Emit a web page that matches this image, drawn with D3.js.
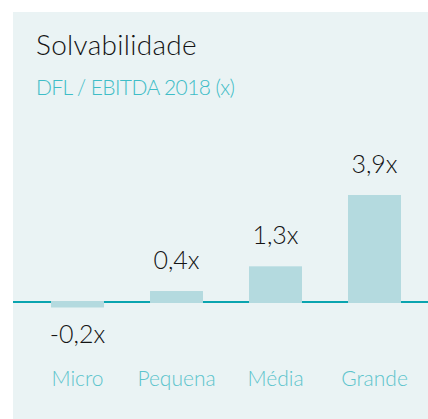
<!DOCTYPE html>
<html>
<head>
<meta charset="utf-8">
<script src="https://cdn.jsdelivr.net/npm/d3@7"></script>
<style>
  body { margin: 0; background: #fff; }
  text { font-family: Lato, "Open Sans", sans-serif; }
</style>
</head>
<body>
<div id="chart"></div>
<script>
const categories = ["Micro", "Pequena", "Média", "Grande"];
const values = [-0.2, 0.4, 1.3, 3.9];
const valueLabels = ["-0,2x", "0,4x", "1,3x", "3,9x"];
const title = "Solvabilidade";
const subtitle = "DFL / EBITDA 2018 (x)";

const width = 428;
const height = 419;

const svg = d3.select("#chart")
    .append("svg")
    .attr("width", width)
    .attr("height", height);

// painel de fundo
svg.append("rect")
    .attr("x", 13)
    .attr("y", 12)
    .attr("width", width - 13)
    .attr("height", height - 12)
    .attr("fill", "#eaf3f4");

svg.append("text")
    .attr("x", 36)
    .attr("y", 55)
    .attr("fill", "#141414")
    .style("font-size", "28px")
    .style("font-weight", 300)
    .style("letter-spacing", "0.3px")
    .text(title);

svg.append("text")
    .attr("x", 36)
    .attr("y", 95)
    .attr("fill", "#3fbdc7")
    .style("font-size", "21px")
    .style("font-weight", 300)
    .style("letter-spacing", "-0.6px")
    .text(subtitle);

const x = d3.scaleBand()
    .domain(categories)
    .range([28, 424])
    .paddingInner(0.465)
    .paddingOuter(0.2325);

const y = d3.scaleLinear()
    .domain([0, 3.9])
    .range([302, 195]);

// linha do zero
svg.append("line")
    .attr("x1", 13)
    .attr("x2", width)
    .attr("y1", y(0))
    .attr("y2", y(0))
    .attr("stroke", "#0aa4af")
    .attr("stroke-width", 2);

svg.selectAll("rect.bar")
    .data(values)
    .join("rect")
    .attr("class", "bar")
    .attr("x", (d, i) => x(categories[i]))
    .attr("width", x.bandwidth())
    .attr("y", d => d >= 0 ? y(d) : y(0) - 1)
    .attr("height", d => Math.abs(y(d) - y(0)) + 1)
    .attr("fill", "#b4dadf");

svg.selectAll("text.value")
    .data(values)
    .join("text")
    .attr("class", "value")
    .attr("x", (d, i) => x(categories[i]) + x.bandwidth() / 2)
    .attr("y", d => d >= 0 ? y(d) - 22 : y(d) + 36)
    .attr("text-anchor", "middle")
    .attr("fill", "#141414")
    .style("font-size", "25px")
    .style("font-weight", 300)
    .text((d, i) => valueLabels[i]);

svg.selectAll("text.cat")
    .data(categories)
    .join("text")
    .attr("class", "cat")
    .attr("x", d => x(d) + x.bandwidth() / 2)
    .attr("y", 386)
    .attr("text-anchor", "middle")
    .attr("fill", "#5cc4cc")
    .style("font-size", "21px")
    .style("font-weight", 300)
    .text(d => d);
</script>
</body>
</html>
